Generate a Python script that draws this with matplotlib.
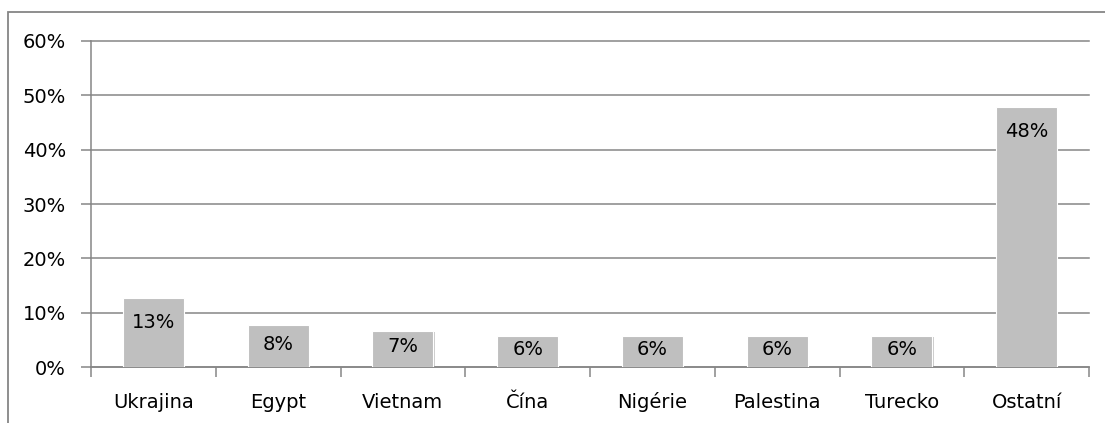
import matplotlib
matplotlib.use('Agg')
import matplotlib.pyplot as plt
import matplotlib.patheffects as pe
from matplotlib.patches import Rectangle
from matplotlib.ticker import FuncFormatter

countries = ['Ukrajina', 'Egypt', 'Vietnam', 'Čína', 'Nigérie', 'Palestina', 'Turecko', 'Ostatní']
shares = [12.7, 7.7, 6.7, 5.7, 5.7, 5.7, 5.7, 47.9]
yticks = [0, 10, 20, 30, 40, 50, 60]

plt.rcParams['font.family'] = ['DejaVu Sans']
grey = '#868686'

fig = plt.figure(figsize=(11.05, 4.23), dpi=100)
ax = fig.add_axes([91/1105, 1 - 367/423, (1089 - 91)/1105, (367 - 41)/423])

# outer chart frame (runs off the right and bottom edge)
fig.patches.append(Rectangle((8/1105, -0.1), 1.2, 0.1 + (423 - 12)/423,
                             transform=fig.transFigure, fill=False,
                             edgecolor=grey, linewidth=1.3))

x = range(len(countries))
bars = ax.bar(x, shares, width=0.49, color='#BFBFBF', edgecolor='white',
              linewidth=0.8, zorder=3)
for b in bars:
    b.set_path_effects([pe.SimplePatchShadow(offset=(0.8, -0.8), shadow_rgbFace='#9a9a9a', alpha=0.5),
                        pe.Normal()])

ax.set_xlim(-0.5, len(countries) - 0.5)
ax.set_ylim(0, 60)

# labels sit near the top of the bar, or in the middle when the bar is short
px_per_unit = (367 - 41) / 60.0
for i, v in enumerate(shares):
    h = v * px_per_unit
    off = min(25, h / 2 - 2)
    ax.annotate('{}%'.format(round(v)), (i, v), xytext=(0, -off), textcoords='offset pixels',
                ha='center', va='center', fontsize=14, color='black', zorder=4)

ax.set_yticks(yticks)
ax.yaxis.set_major_formatter(FuncFormatter(lambda v, p: '{:.0f}%'.format(v)))
ax.grid(axis='y', color=grey, linewidth=1.1, zorder=0)
for gl in ax.get_ygridlines():
    gl.set_clip_on(False)
ax.set_axisbelow(True)

ax.set_xticks([i - 0.5 for i in range(len(countries) + 1)], minor=False)
ax.set_xticklabels([])
ax.set_xticks(list(x), minor=True)
ax.set_xticklabels(countries, minor=True)
for lbl in ax.get_xticklabels(minor=True):
    lbl.set_va('baseline')
ax.tick_params(axis='x', which='major', length=7, width=1.1, color=grey, direction='out')
ax.tick_params(axis='x', which='minor', length=0, pad=29.3, labelsize=14)
ax.tick_params(axis='y', length=7, width=1.1, color=grey, pad=11, labelsize=14)

for s in ['top', 'right']:
    ax.spines[s].set_visible(False)
for s in ['left', 'bottom']:
    ax.spines[s].set_color(grey)
    ax.spines[s].set_linewidth(1.1)

fig.savefig('out.png', dpi=100)
